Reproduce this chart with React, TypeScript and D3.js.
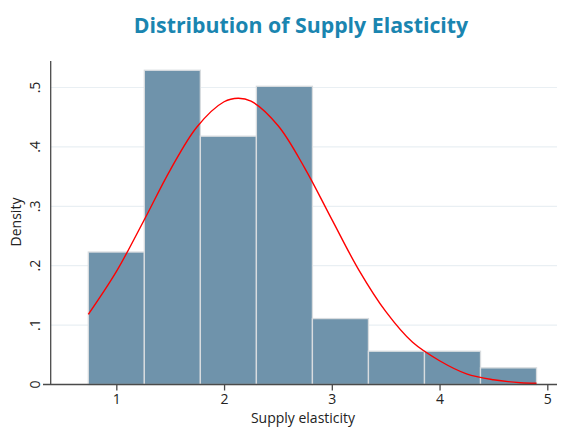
import React, { useEffect, useRef } from 'react';
import * as d3 from 'd3';

// histogram bins (Supply elasticity) and their densities
const binEdges = [0.74, 1.26, 1.78, 2.30, 2.82, 3.34, 3.86, 4.38, 4.90];
const densities = [0.223, 0.529, 0.418, 0.502, 0.111, 0.056, 0.056, 0.028];

// normal density overlay
const curveX = [0.74, 1.0, 1.25, 1.5, 1.75, 2.0, 2.13, 2.25, 2.5, 2.75, 3.0, 3.25, 3.5, 3.75, 4.0, 4.25, 4.5, 4.75, 4.9];
const curveY = [0.118, 0.19, 0.274, 0.361, 0.434, 0.476, 0.482, 0.477, 0.436, 0.364, 0.278, 0.193, 0.123, 0.071, 0.04, 0.018, 0.008, 0.003, 0.002];

const xTicks = [1, 2, 3, 4, 5];
const yTicks = [0, 0.1, 0.2, 0.3, 0.4, 0.5];
const yTickLabels = ['0', '.1', '.2', '.3', '.4', '.5'];

const W = 567;
const H = 436;
const FONT = "'Open Sans', 'Noto Sans', sans-serif";

const App = () => {
	const ref = useRef<SVGSVGElement>(null);

	useEffect(() => {
		const svg = d3.select(ref.current);
		svg.selectAll('*').remove();

		const x = d3.scaleLinear().domain([0.391, 5.09]).range([50.7, 557]);
		const y = d3.scaleLinear().domain([0, 0.5]).range([384.5, 87.5]);

		// grid
		svg.append('g')
			.selectAll('line')
			.data(yTicks.slice(1))
			.enter()
			.append('line')
			.attr('x1', 51).attr('x2', 557)
			.attr('y1', d => y(d)).attr('y2', d => y(d))
			.attr('stroke', '#e9eff3')
			.attr('stroke-width', 1.2);

		// bars
		svg.append('g')
			.selectAll('rect')
			.data(densities)
			.enter()
			.append('rect')
			.attr('x', (d, i) => x(binEdges[i]))
			.attr('width', (d, i) => x(binEdges[i + 1]) - x(binEdges[i]))
			.attr('y', d => y(d))
			.attr('height', d => y(0) - y(d))
			.attr('fill', '#6f93ab')
			.attr('stroke', '#d8dcdf')
			.attr('stroke-width', 1.3);

		// normal curve
		const line = d3.line<number>()
			.x((d, i) => x(curveX[i]))
			.y(d => y(d))
			.curve(d3.curveCatmullRom);
		svg.append('path')
			.attr('d', line(curveY))
			.attr('fill', 'none')
			.attr('stroke', '#ff0000')
			.attr('stroke-width', 1.4);

		// axes
		const xAxis = d3.axisBottom(x).tickValues(xTicks).tickSize(6).tickSizeOuter(0).tickPadding(4).tickFormat(d3.format('d'));
		const gx = svg.append('g').attr('transform', 'translate(0,384.5)').call(xAxis);
		gx.select('.domain').attr('d', 'M43,0H557').attr('stroke', '#4a4a4a').attr('stroke-width', 1.3);
		gx.selectAll('.tick line').attr('stroke', '#4a4a4a').attr('stroke-width', 1.3);
		gx.selectAll('.tick text').attr('font-family', FONT).attr('font-size', 14).attr('fill', '#222');

		svg.append('line')
			.attr('x1', 50.7).attr('x2', 50.7)
			.attr('y1', 61).attr('y2', 385)
			.attr('stroke', '#4a4a4a')
			.attr('stroke-width', 1.3);

		svg.append('g')
			.selectAll('text')
			.data(yTicks)
			.enter()
			.append('text')
			.text((d, i) => yTickLabels[i])
			.attr('transform', d => `translate(40,${y(d)}) rotate(-90)`)
			.attr('text-anchor', 'middle')
			.attr('font-family', FONT)
			.attr('font-size', 14)
			.attr('fill', '#222');

		// labels
		svg.append('text')
			.text('Supply elasticity')
			.attr('x', 303)
			.attr('y', 423)
			.attr('text-anchor', 'middle')
			.attr('font-family', FONT)
			.attr('font-size', 14)
			.attr('fill', '#222');

		svg.append('text')
			.text('Density')
			.attr('transform', 'translate(21,222) rotate(-90)')
			.attr('text-anchor', 'middle')
			.attr('font-family', FONT)
			.attr('font-size', 14)
			.attr('fill', '#222');

		svg.append('text')
			.text('Distribution of Supply Elasticity')
			.attr('x', 301)
			.attr('y', 33)
			.attr('text-anchor', 'middle')
			.attr('font-family', FONT)
			.attr('font-weight', 'bold')
			.attr('font-size', 21.3)
			.attr('fill', '#1a85b0');
	}, []);

	return <svg ref={ref} width={W} height={H} style={{ position: 'absolute', left: 0, top: 0, background: '#fff' }} />;
};

export default App;
